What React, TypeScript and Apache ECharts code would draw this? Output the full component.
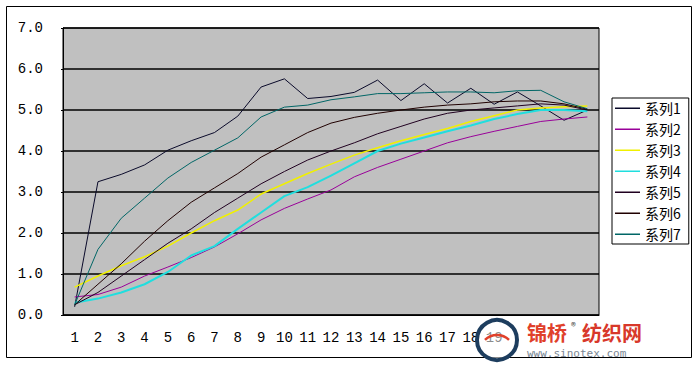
import React, { useEffect, useRef } from "react";
import * as echarts from "echarts";

const categories = ["1","2","3","4","5","6","7","8","9","10","11","12","13","14","15","16","17","18","19","20","21","22","23"];
const seriesNames = ["系列1","系列2","系列3","系列4","系列5","系列6","系列7"];

const s1 = [0.2, 3.25, 3.43, 3.66, 4.02, 4.25, 4.45, 4.85, 5.56, 5.76, 5.28, 5.33, 5.43, 5.73, 5.23, 5.64, 5.17, 5.53, 5.14, 5.44, 5.1, 4.75, 5.0];
const s2 = [0.44, 0.5, 0.68, 0.95, 1.17, 1.4, 1.66, 1.98, 2.32, 2.6, 2.83, 3.05, 3.37, 3.6, 3.8, 4.0, 4.2, 4.35, 4.48, 4.6, 4.72, 4.78, 4.83];
const s3 = [0.68, 0.95, 1.2, 1.42, 1.68, 2.0, 2.3, 2.56, 2.95, 3.2, 3.45, 3.68, 3.9, 4.08, 4.25, 4.4, 4.55, 4.72, 4.86, 5.0, 5.05, 5.08, 5.1];
const s4 = [0.3, 0.4, 0.55, 0.75, 1.05, 1.45, 1.68, 2.1, 2.5, 2.9, 3.12, 3.4, 3.7, 4.0, 4.18, 4.33, 4.48, 4.62, 4.78, 4.9, 5.0, 5.0, 4.97];
const s5 = [0.25, 0.55, 0.95, 1.35, 1.75, 2.1, 2.5, 2.85, 3.2, 3.5, 3.78, 4.0, 4.2, 4.42, 4.6, 4.78, 4.92, 5.0, 5.05, 5.1, 5.15, 5.12, 5.0];
const s6 = [0.25, 0.75, 1.25, 1.8, 2.3, 2.75, 3.1, 3.45, 3.85, 4.15, 4.45, 4.68, 4.82, 4.92, 5.0, 5.07, 5.12, 5.15, 5.2, 5.22, 5.22, 5.15, 5.02];
const s7 = [0.25, 1.6, 2.36, 2.85, 3.34, 3.72, 4.02, 4.32, 4.83, 5.07, 5.12, 5.25, 5.32, 5.4, 5.4, 5.42, 5.44, 5.44, 5.42, 5.47, 5.48, 5.2, 5.03];

const seriesData = [s1, s2, s3, s4, s5, s6, s7];
const seriesColors = ["#0a0a2a", "#990099", "#f0f000", "#20dede", "#200020", "#200000", "#006666"];
const seriesWidths = [1, 1, 1.5, 2, 1, 1, 1];

const yMin = 0;
const yMax = 7;
const yInterval = 1;

// labels hidden under the watermark in the reference
const lastVisibleLabelIndex = 18;

const legendLineIcon = "path://M0,0h25v0.01h-25z M0,6.5h25v1.4h-25z M0,13.99h25v0.01h-25z";

export default function App() {
  const ref = useRef<HTMLDivElement>(null);
  useEffect(() => {
    document.body.style.margin = "0";
    const chart = echarts.init(ref.current!, null, { renderer: "svg" });
    chart.setOption({
      animation: false,
      backgroundColor: "#ffffff",
      grid: {
        left: 63, top: 28, width: 536, height: 287,
        show: true, backgroundColor: "#c0c0c0", borderColor: "#000", borderWidth: 1,
      },
      legend: {
        orient: "vertical",
        left: 612, top: 98,
        padding: [3, 8, 3, 3],
        itemWidth: 25, itemHeight: 14, itemGap: 7,
        borderColor: "#000", borderWidth: 1, backgroundColor: "#fff",
        borderRadius: 0,
        icon: legendLineIcon,
        textStyle: { fontFamily: "Noto Sans CJK SC", fontSize: 14, color: "#000" },
        data: seriesNames,
      },
      xAxis: {
        type: "category",
        data: categories,
        boundaryGap: true,
        axisLine: { lineStyle: { color: "#000", width: 1 } },
        axisTick: { inside: true, length: 4, lineStyle: { color: "#000" } },
        axisLabel: {
          margin: 16, fontFamily: "Liberation Mono", fontSize: 14, color: "#000",
          interval: (index: number) => index <= lastVisibleLabelIndex,
        },
        splitLine: { show: false },
      },
      yAxis: {
        type: "value",
        min: yMin, max: yMax, interval: yInterval,
        axisLine: { show: true, lineStyle: { color: "#000", width: 1 } },
        axisTick: { show: true, length: 2, lineStyle: { color: "#000" } },
        axisLabel: { margin: 20, fontFamily: "Liberation Mono", fontSize: 14, color: "#000", formatter: (v: number) => v.toFixed(1) },
        splitLine: { show: true, lineStyle: { color: "#000", width: 1.5 } },
      },
      series: seriesData.map((d, i) => ({
        name: seriesNames[i],
        type: "line",
        data: d,
        symbol: "none",
        color: seriesColors[i],
        itemStyle: { color: seriesColors[i] },
        lineStyle: { color: seriesColors[i], width: seriesWidths[i] },
      })),
      graphic: [
        {
          type: "rect", silent: true, z: -10,
          shape: { x: 6.5, y: 6.5, width: 685, height: 351 },
          style: { fill: "none", stroke: "#000", lineWidth: 1 },
        },
        {
          type: "circle", silent: true, z: 101,
          shape: { cx: 497, cy: 340, r: 20 },
          style: { fill: "rgba(255,255,255,0.55)", stroke: "#1d3d5e", lineWidth: 4 },
        },
        {
          type: "arc", silent: true, z: 102,
          shape: { cx: 497, cy: 352, r: 17, startAngle: Math.PI * 1.25, endAngle: Math.PI * 1.75 },
          style: { stroke: "#e0402a", lineWidth: 2.5, fill: "none" },
        },
        {
          type: "text", silent: true, z: 102, x: 527, y: 322,
          style: { text: "锦桥", fill: "#e0402a", font: "bold 20px 'Noto Sans CJK SC'", lineHeight: 20 },
        },
        {
          type: "text", silent: true, z: 102, x: 571, y: 320,
          style: { text: "®", fill: "#444", font: "10px 'Noto Sans CJK SC'", lineHeight: 10 },
        },
        {
          type: "text", silent: true, z: 102, x: 582, y: 322,
          style: { text: "纺织网", fill: "#d8382a", font: "bold 20px 'Noto Sans CJK SC'", lineHeight: 20 },
        },
        {
          type: "text", silent: true, z: 102, x: 527, y: 348,
          style: { text: "www.sinotex.com", fill: "#7a8794", font: "11px 'DejaVu Sans Mono'", lineHeight: 11 },
        },
      ],
    });
    return () => chart.dispose();
  }, []);
  return <div ref={ref} style={{ width: 699, height: 365 }} />;
}
